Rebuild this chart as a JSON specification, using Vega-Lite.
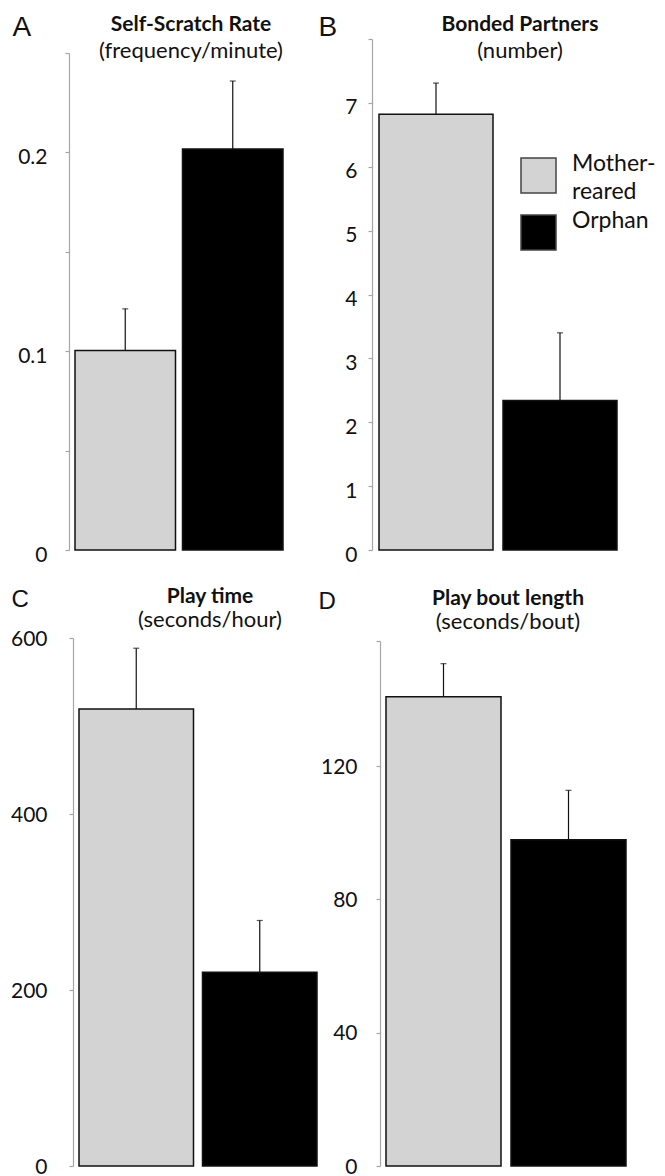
{
  "$schema": "https://vega.github.io/schema/vega-lite/v6.json",
  "description": "Mother-reared vs orphan comparison, four panels",
  "padding": {"left": 10, "top": 13, "right": 5, "bottom": 5},
  "autosize": {"type": "pad"},
  "datasets": {
    "bars": [
      {"panel": "A", "group": "Mother-reared", "mean": 0.1003, "upper": 0.1213},
      {"panel": "A", "group": "Orphan", "mean": 0.2017, "upper": 0.2359},
      {"panel": "B", "group": "Mother-reared", "mean": 6.82, "upper": 7.31},
      {"panel": "B", "group": "Orphan", "mean": 2.34, "upper": 3.40},
      {"panel": "C", "group": "Mother-reared", "mean": 519.3, "upper": 588.4},
      {"panel": "C", "group": "Orphan", "mean": 220.2, "upper": 279.0},
      {"panel": "D", "group": "Mother-reared", "mean": 140.8, "upper": 150.7},
      {"panel": "D", "group": "Orphan", "mean": 97.9, "upper": 112.7}
    ]
  },
  "data": {"name": "bars"},
  "columns": 2,
  "spacing": {"row": 88, "column": 45},
  "bounds": "flush",
  "align": "each",
  "resolve": {"scale": {"color": "independent"}, "legend": {"color": "independent"}},
  "concat": [
    {
      "width": 220,
      "height": 511,
      "title": {"text": "Self-Scratch Rate", "subtitle": "(frequency/minute)", "dx": 12, "offset": -49, "subtitlePadding": 6},
      "transform": [{"filter": "datum.panel == 'A'"}],
      "encoding": {
        "x": {"field": "group", "type": "nominal", "sort": ["Mother-reared", "Orphan"], "axis": null,
              "scale": {"paddingInner": 0.0651, "paddingOuter": 0.0558}}
      },
      "layer": [
        {
          "mark": {"type": "bar", "stroke": "#111", "strokeWidth": 1.5},
          "encoding": {
            "y": {"field": "mean", "type": "quantitative",
                  "scale": {"domain": [0, 0.25], "range": [511, 14], "nice": false},
                  "axis": {"title": "A", "titleFontSize": 28, "titleX": -57, "titleY": -4,
                           "values": [0, 0.05, 0.1, 0.15, 0.2, 0.25], "format": "~g",
                           "labelExpr": "datum.value == 0 || datum.value == 0.1 || datum.value == 0.2 ? datum.label : ''",
                           "labelPadding": 18}},
            "color": {"field": "group", "type": "nominal",
                      "scale": {"domain": ["Mother-reared", "Orphan"], "range": ["#d3d3d3", "#000000"]},
                      "legend": null}
          }
        },
        {
          "mark": {"type": "rule", "color": "#111", "strokeWidth": 1.2},
          "encoding": {
            "y": {"field": "mean", "type": "quantitative"},
            "y2": {"field": "upper"}
          }
        },
        {
          "mark": {"type": "tick", "color": "#111", "thickness": 1.2, "size": 6},
          "encoding": {"y": {"field": "upper", "type": "quantitative"}}
        }
      ]
    },
    {
      "width": 252,
      "height": 511,
      "title": {"text": "Bonded Partners", "subtitle": "(number)", "dx": 22, "offset": -49, "subtitlePadding": 6},
      "transform": [{"filter": "datum.panel == 'B'"}],
      "encoding": {
        "x": {"field": "group", "type": "nominal", "sort": ["Mother-reared", "Orphan"], "axis": null,
              "scale": {"paddingInner": 0.0806, "paddingOuter": 0.0565}}
      },
      "layer": [
        {
          "mark": {"type": "bar", "stroke": "#111", "strokeWidth": 1.5},
          "encoding": {
            "y": {"field": "mean", "type": "quantitative",
                  "scale": {"domain": [0, 8], "range": [511, 0], "nice": false},
                  "axis": {"title": "B", "titleFontSize": 28, "titleX": -54, "titleY": -4,
                           "values": [0, 1, 2, 3, 4, 5, 6, 7, 8], "format": "d",
                           "labelExpr": "datum.value < 8 ? datum.label : ''",
                           "labelPadding": 11}},
            "color": {"field": "group", "type": "nominal",
                      "scale": {"domain": ["Mother-reared", "Orphan"], "range": ["#d3d3d3", "#000000"]},
                      "legend": {"orient": "none", "legendX": 148, "legendY": 118, "padding": 0, "title": null,
                                 "symbolType": "square", "symbolSize": 1225, "symbolStrokeColor": "#444",
                                 "symbolStrokeWidth": 1.5, "labelFont": "Lato", "labelFontSize": 23,
                                 "labelColor": "#111", "labelOffset": 15, "rowPadding": 5, "labelLimit": 0,
                                 "labelExpr": "datum.label == 'Mother-reared' ? ['Mother-', 'reared'] : datum.label",
                                 "encode": {"labels": {"update": {"lineHeight": {"value": 28}, "dy": {"value": -12}}}}}}
          }
        },
        {
          "mark": {"type": "rule", "color": "#111", "strokeWidth": 1.2},
          "encoding": {
            "y": {"field": "mean", "type": "quantitative"},
            "y2": {"field": "upper"}
          }
        },
        {
          "mark": {"type": "tick", "color": "#111", "thickness": 1.2, "size": 6},
          "encoding": {"y": {"field": "upper", "type": "quantitative"}}
        }
      ]
    },
    {
      "width": 258,
      "height": 529,
      "title": {"text": "Play time", "subtitle": "(seconds/hour)", "dx": 12, "offset": -44, "subtitlePadding": 3},
      "transform": [{"filter": "datum.panel == 'C'"}],
      "encoding": {
        "x": {"field": "group", "type": "nominal", "sort": ["Mother-reared", "Orphan"], "axis": null,
              "scale": {"paddingInner": 0.0729, "paddingOuter": 0.081}}
      },
      "layer": [
        {
          "mark": {"type": "bar", "stroke": "#111", "strokeWidth": 1.5},
          "encoding": {
            "y": {"field": "mean", "type": "quantitative",
                  "scale": {"domain": [0, 600], "range": [528, 0], "nice": false},
                  "axis": {"title": "C", "titleFontSize": 24, "titleX": -62, "titleY": -32,
                           "values": [0, 200, 400, 600], "labelPadding": 22, "labelOffset": 1, "offset": -4}},
            "color": {"field": "group", "type": "nominal",
                      "scale": {"domain": ["Mother-reared", "Orphan"], "range": ["#d3d3d3", "#000000"]},
                      "legend": null}
          }
        },
        {
          "mark": {"type": "rule", "color": "#111", "strokeWidth": 1.2},
          "encoding": {
            "y": {"field": "mean", "type": "quantitative"},
            "y2": {"field": "upper"}
          }
        },
        {
          "mark": {"type": "tick", "color": "#111", "thickness": 1.2, "size": 6},
          "encoding": {"y": {"field": "upper", "type": "quantitative"}}
        }
      ]
    },
    {
      "width": 268,
      "height": 529,
      "title": {"text": "Play bout length", "subtitle": "(seconds/bout)", "dx": 2, "offset": -44, "subtitlePadding": 3},
      "transform": [{"filter": "datum.panel == 'D'"}],
      "encoding": {
        "x": {"field": "group", "type": "nominal", "sort": ["Mother-reared", "Orphan"], "axis": null,
              "scale": {"paddingInner": 0.08, "paddingOuter": 0.112}}
      },
      "layer": [
        {
          "mark": {"type": "bar", "stroke": "#111", "strokeWidth": 1.5},
          "encoding": {
            "y": {"field": "mean", "type": "quantitative",
                  "scale": {"domain": [0, 157.5], "range": [528, 3], "nice": false},
                  "axis": {"title": "D", "titleFontSize": 24, "titleX": -62, "titleY": -30,
                           "values": [0, 40, 80, 120, 157.5],
                           "labelExpr": "datum.value < 150 ? datum.label : ''",
                           "labelPadding": 19, "labelOffset": 1, "offset": -8}},
            "color": {"field": "group", "type": "nominal",
                      "scale": {"domain": ["Mother-reared", "Orphan"], "range": ["#d3d3d3", "#000000"]},
                      "legend": null}
          }
        },
        {
          "mark": {"type": "rule", "color": "#111", "strokeWidth": 1.2},
          "encoding": {
            "y": {"field": "mean", "type": "quantitative"},
            "y2": {"field": "upper"}
          }
        },
        {
          "mark": {"type": "tick", "color": "#111", "thickness": 1.2, "size": 6},
          "encoding": {"y": {"field": "upper", "type": "quantitative"}}
        }
      ]
    }
  ],
  "config": {
    "view": {"stroke": null},
    "font": "Lato",
    "title": {"font": "Lato", "fontSize": 21, "fontWeight": "bold", "color": "#111",
              "subtitleFont": "Lato", "subtitleFontSize": 22, "subtitleColor": "#111",
              "subtitlePadding": 4, "anchor": "middle", "frame": "group", "offset": 0},
    "axis": {"grid": false, "domainColor": "#a6a6a6", "domainWidth": 1.2, "tickColor": "#a6a6a6",
             "tickWidth": 1.2, "tickSize": 4, "labelFont": "Lato", "labelFontSize": 21,
             "labelColor": "#111", "labelOffset": 5, "labelFlush": false, "labelOverlap": false,
             "titleFont": "Liberation Sans", "titleFontWeight": "normal", "titleColor": "#111",
             "titleAngle": 0, "titleAlign": "left", "titleBaseline": "alphabetic"}
  }
}
